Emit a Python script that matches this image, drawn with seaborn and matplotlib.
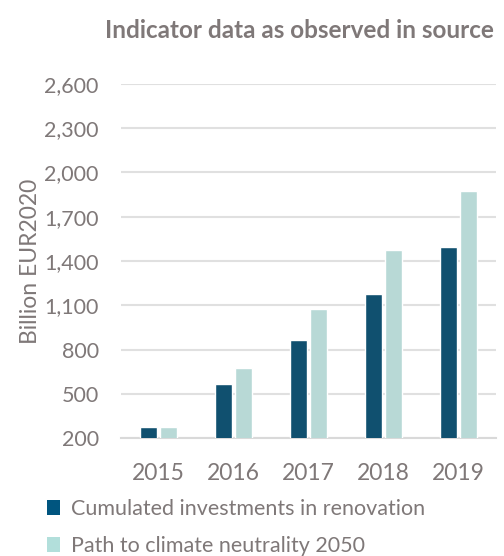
import matplotlib
matplotlib.use("Agg")
import matplotlib.pyplot as plt
import matplotlib.ticker as mticker
import seaborn as sns
import pandas as pd

years = ["2015", "2016", "2017", "2018", "2019"]
investments = [275, 569, 865, 1180, 1492]
path_2050 = [275, 675, 1073, 1474, 1872]
series_names = ["Cumulated investments in renovation", "Path to climate neutrality 2050"]
y_ticks = [200, 500, 800, 1100, 1400, 1700, 2000, 2300, 2600]

df = pd.DataFrame({
    "year": years * 2,
    "value": investments + path_2050,
    "series": [series_names[0]] * len(years) + [series_names[1]] * len(years),
})

sns.set_theme(style="white")
plt.rcParams["font.family"] = ["Lato", "DejaVu Sans"]
text_color = "#7f7878"
dark = "#00557f"
light = "#b2dfdb"

fig = plt.figure(figsize=(5.04, 5.56), dpi=100)
ax = fig.add_axes([0.240, 0.212, 0.744, 0.637])

sns.barplot(data=df, x="year", y="value", hue="series",
            palette=[dark, light], width=0.52, gap=0.11,
            ax=ax, legend=False, zorder=3)

ax.set_ylim(200, 2600)
ax.set_yticks(y_ticks)
ax.yaxis.set_major_formatter(mticker.FuncFormatter(lambda v, p: f"{int(v):,}"))
ax.grid(axis="y", color="#e0e0e0", linewidth=1.5, zorder=0)
ax.set_axisbelow(True)
for s in ["top", "right", "left"]:
    ax.spines[s].set_visible(False)
ax.spines["bottom"].set_color("#d9d9d9")
ax.spines["bottom"].set_linewidth(1.5)
ax.tick_params(axis="both", length=0, colors=text_color)
ax.tick_params(axis="y", labelsize=15.5, pad=16)
ax.tick_params(axis="x", labelsize=16.5, pad=18)
ax.set_xlabel("")
ax.set_ylabel("Billion EUR2020", fontsize=16.5, color=text_color, labelpad=2)

fig.text(0.595, 0.946, "Indicator data as observed in source", ha="center", va="center",
         fontsize=17.5, fontweight="bold", color=text_color)

from matplotlib.patches import Patch
handles = [Patch(facecolor=dark, edgecolor="none"), Patch(facecolor=light, edgecolor="none")]
fig.legend(handles, series_names, loc="upper left", bbox_to_anchor=(0.072, 0.122),
           frameon=False, fontsize=15.5, labelcolor=text_color, handlelength=0.6,
           handleheight=0.7, handletextpad=0.5, labelspacing=0.8, borderpad=0)

fig.savefig("out.png", dpi=100)
